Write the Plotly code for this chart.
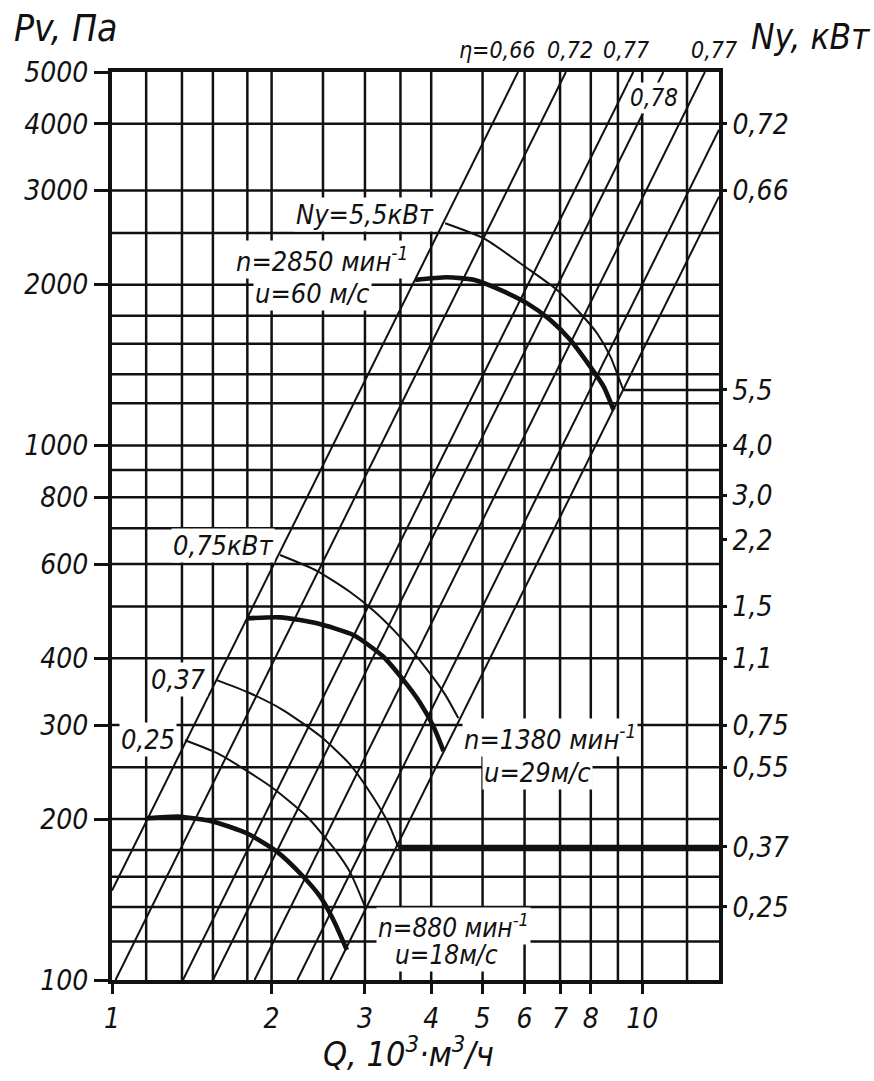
import numpy as np
import plotly.graph_objects as go

# ---------------- data ----------------
q_min, q_max = 1.0, 13.96          # Q, 10^3 m3/h (log axis)
p_min, p_max = 100.0, 5000.0       # Pv, Pa (log axis)

x_tick_vals = [1, 2, 3, 4, 5, 6, 7, 8, 10]
x_tick_text = ["1", "2", "3", "4", "5", "6", "7", "8", "10"]
y_tick_vals = [100, 200, 300, 400, 600, 800, 1000, 2000, 3000, 4000, 5000]
y_tick_text = ["100", "200", "300", "400", "600", "800", "1000", "2000", "3000", "4000", "5000"]
ny_tick_pos = [4000, 3000, 1271, 1000, 808, 666, 500, 400, 300, 250, 177.4, 137]
ny_tick_text = ["0,72", "0,66", "5,5", "4,0", "3,0", "2,2", "1,5", "1,1", "0,75", "0,55", "0,37", "0,25"]

grid_q = [1.16, 1.355, 1.55, 1.8, 2, 2.5, 3, 3.5, 4, 5, 6, 7, 8, 9, 10, 12.15]
grid_p = [4000, 3000, 2500, 2000, 1750, 1550, 1360, 1200, 1000, 900, 800, 700,
          600, 500, 400, 300, 250, 200, 175, 156, 137, 118]

# parallel lines P = k * Q^2
eff_k = [147, 97, 54, 41.6, 29, 20, 15]
eff_top_label = [True, True, True, False, True, False, False]

# fan curves
n2850_q = [3.73, 4.28, 4.81, 5.40, 6.06, 6.71, 7.32, 7.98, 8.46, 8.83]
n2850_p = [2042, 2065, 2042, 1955, 1847, 1718, 1576, 1405, 1289, 1166]
n1380_q = [1.796, 2.075, 2.434, 2.853, 3.246, 3.546, 3.813, 4.04, 4.22]
n1380_p = [475, 477, 465, 442, 403, 364, 330, 298, 268]
n880_q = [1.163, 1.344, 1.553, 1.796, 2.046, 2.263, 2.470, 2.616, 2.773]
n880_p = [200.7, 202.1, 197.8, 188.2, 173.9, 158.4, 143.2, 129.5, 113.8]

# power lines Ny
ny55_q = [4.25, 5.02, 6.06, 6.91, 7.64, 8.22, 8.71, 9.21]
ny55_p = [2606, 2443, 2149, 1955, 1768, 1622, 1467, 1271]
ny075_q = [2.075, 2.434, 2.813, 3.135, 3.496, 3.896, 4.25, 4.50]
ny075_p = [624, 583, 532, 488, 438, 385, 342, 309]
ny037_q = [1.576, 1.822, 2.102, 2.470, 2.813, 3.135, 3.318, 3.465]
ny037_p = [364, 344, 320, 286, 253, 217, 197, 177.4]
ny025_q = [1.373, 1.576, 1.822, 2.030, 2.333, 2.614, 2.813, 3.002]
ny025_p = [281, 266, 244, 227, 202, 177, 159, 137]

# ---------------- styling ----------------
FONT = "DejaVu Sans Condensed, DejaVu Sans, sans-serif"
INK = "#111111"

fig = go.Figure()

# grid
vx, vy = [], []
for q in grid_q:
    vx += [q, q, None]
    vy += [p_min, p_max, None]
hx, hy = [], []
for p in grid_p:
    hx += [q_min, q_max, None]
    hy += [p, p, None]
fig.add_trace(go.Scatter(x=vx, y=vy, mode="lines", line=dict(color=INK, width=2.5), hoverinfo="skip"))
fig.add_trace(go.Scatter(x=hx, y=hy, mode="lines", line=dict(color=INK, width=2.5), hoverinfo="skip"))

# diagonal lines
dx, dy, ex, ey = [], [], [], []
p_ext = 5300.0
for k, lab in zip(eff_k, eff_top_label):
    qa = max(q_min, (p_min / k) ** 0.5)
    qb = min(q_max, (p_max / k) ** 0.5)
    dx += [qa, qb, None]
    dy += [k * qa ** 2, k * qb ** 2, None]
    if lab:
        qe = (p_ext / k) ** 0.5
        ex += [qb, qe, None]
        ey += [k * qb ** 2, p_ext, None]
fig.add_trace(go.Scatter(x=dx, y=dy, mode="lines", line=dict(color=INK, width=2.0), hoverinfo="skip"))
fig.add_trace(go.Scatter(x=ex, y=ey, mode="lines", line=dict(color=INK, width=1.6),
                         cliponaxis=False, hoverinfo="skip"))

# power lines (thin)
for qs, ps in [(ny55_q, ny55_p), (ny075_q, ny075_p), (ny037_q, ny037_p), (ny025_q, ny025_p)]:
    fig.add_trace(go.Scatter(x=qs, y=ps, mode="lines",
                             line=dict(color=INK, width=2.0, shape="spline", smoothing=0.6),
                             hoverinfo="skip"))
# leaders to right scale
fig.add_trace(go.Scatter(x=[ny55_q[-1], q_max], y=[ny55_p[-1], ny55_p[-1]], mode="lines",
                         line=dict(color=INK, width=2.5), hoverinfo="skip"))
fig.add_trace(go.Scatter(x=[ny037_q[-1], q_max], y=[ny037_p[-1], ny037_p[-1]], mode="lines",
                         line=dict(color=INK, width=4.2), hoverinfo="skip"))

# fan curves (thick)
for qs, ps in [(n2850_q, n2850_p), (n1380_q, n1380_p), (n880_q, n880_p)]:
    fig.add_trace(go.Scatter(x=qs, y=ps, mode="lines",
                             line=dict(color=INK, width=4.6, shape="spline", smoothing=0.6),
                             hoverinfo="skip"))

# y2 carrier (invisible)
fig.add_trace(go.Scatter(x=[q_min], y=[p_min], yaxis="y2", mode="markers", marker=dict(opacity=0),
                         hoverinfo="skip"))

# ---------------- annotations ----------------
def lab(text, xp, yp, size=27, bg=True, xanchor="center", yanchor="middle"):
    return dict(text=text, x=xp, y=yp, xref="paper", yref="paper", showarrow=False,
                xanchor=xanchor, yanchor=yanchor,
                font=dict(family=FONT, size=size, color=INK, style="italic"),
                bgcolor="white" if bg else "rgba(0,0,0,0)", borderpad=1)

ann = [
    lab("Ny=5,5кВт", 0.417, 0.8436),
    lab("n=2850 мин<sup>-1</sup>", 0.346, 0.794),
    lab("u=60 м/с", 0.331, 0.7566),
    lab("0,75кВт", 0.183, 0.479),
    lab("0,37", 0.1088, 0.3304),
    lab("0,25", 0.0593, 0.2654),
    lab("n=1380 мин<sup>-1</sup>", 0.722, 0.2676),
    lab("u=29м/с", 0.7005, 0.228),
    lab("n=880 мин<sup>-1</sup>", 0.562, 0.0595, size=26),
    lab("u=18м/с", 0.5505, 0.027, size=26),
    lab("0,78", 0.8934, 0.9714, size=24),
    lab("η=0,66", 0.6346, 1.0242, size=23),
    lab("0,72", 0.7549, 1.0242, size=23),
    lab("0,77", 0.8472, 1.0242, size=23),
    lab("0,77", 0.9923, 1.0242, size=23),
    lab("Pv, Па", -0.165, 1.0474, size=37, bg=False, xanchor="left"),
    lab("Ny, кВт", 1.050, 1.0385, size=35, bg=False, xanchor="left"),
    lab("Q, 10<sup>3</sup>·м<sup>3</sup>/ч", 0.4879, -0.106, size=34, bg=False, yanchor="bottom"),
]

tickfont = dict(family=FONT, size=28, color=INK, style="italic")
fig.update_layout(
    width=874, height=1081,
    margin=dict(l=112, r=155, t=72, b=101, pad=0),
    paper_bgcolor="white", plot_bgcolor="white",
    showlegend=False,
    annotations=ann,
    xaxis=dict(type="log", range=[np.log10(q_min), np.log10(q_max)],
               tickvals=x_tick_vals, ticktext=x_tick_text, tickfont=tickfont,
               ticks="outside", ticklen=10, tickwidth=3, tickcolor=INK,
               showgrid=False, zeroline=False, showline=True, linewidth=4, linecolor=INK, mirror=True),
    yaxis=dict(type="log", range=[np.log10(p_min), np.log10(p_max)],
               tickvals=y_tick_vals, ticktext=y_tick_text, tickfont=tickfont,
               ticks="outside", ticklen=14, tickwidth=3, tickcolor=INK,
               showgrid=False, zeroline=False, showline=True, linewidth=4, linecolor=INK, mirror=True),
    yaxis2=dict(type="log", range=[np.log10(p_min), np.log10(p_max)], overlaying="y", side="right",
                tickvals=ny_tick_pos, ticktext=ny_tick_text, tickfont=tickfont,
                ticks="outside", ticklen=7, tickwidth=3, tickcolor=INK,
                showgrid=False, zeroline=False, showline=False),
)

fig.write_html("out.html", config={"displayModeBar": False},
               post_script="document.body.style.margin='0';")
